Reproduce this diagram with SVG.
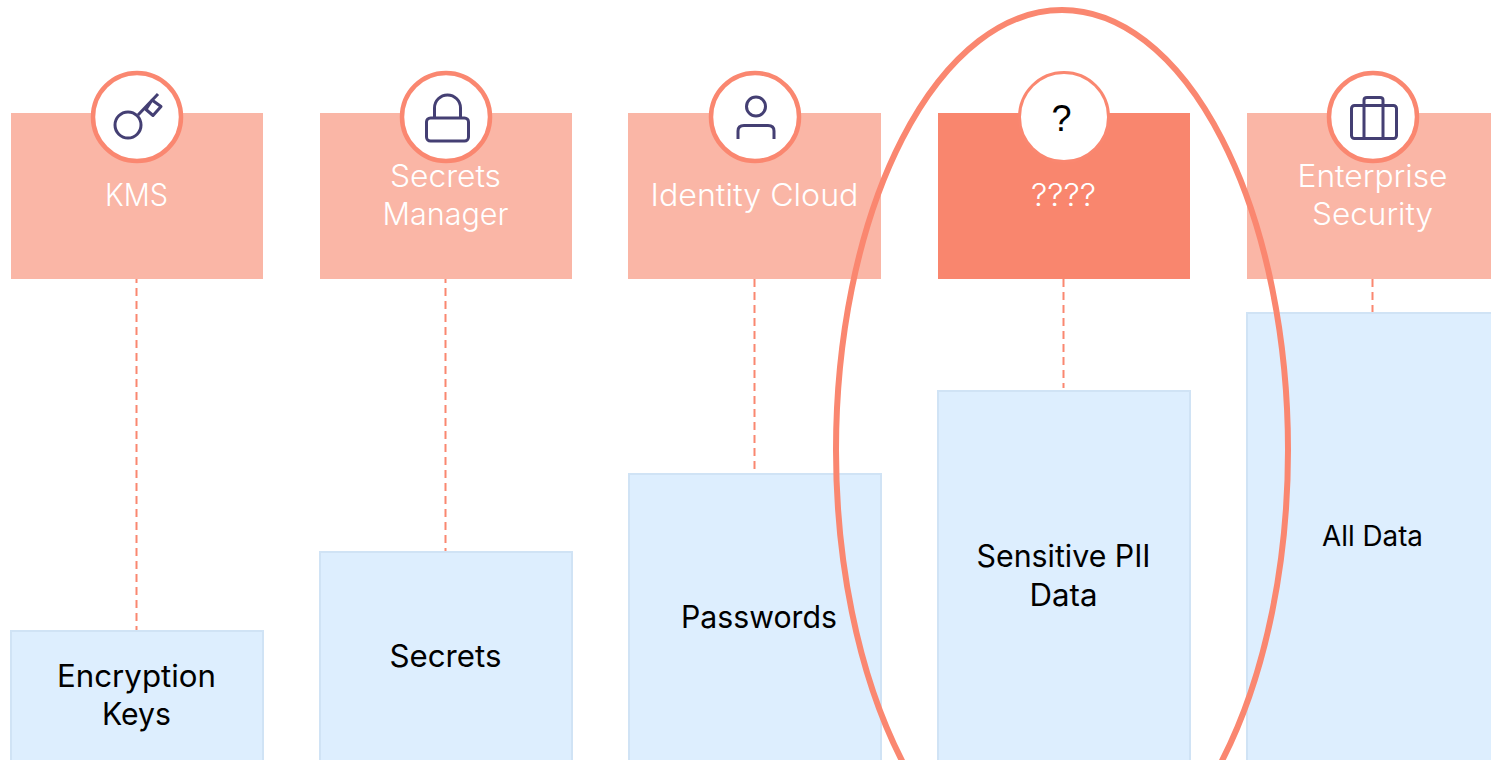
<svg xmlns="http://www.w3.org/2000/svg" width="1491" height="760" viewBox="0 0 1491 760">
<style>
.h{fill:#fab6a6}
.ha{fill:#f9866e}
.b{fill:#ddeefe;stroke:#d0e3f5;stroke-width:2}
.c{fill:#fff;stroke:#fa8770;stroke-width:4.500}
.ca{fill:#fff;stroke:#fa8770;stroke-width:3}
.i{fill:none;stroke:#443f73;stroke-width:3;stroke-linejoin:round}
.w,.k{font-family:"Inter","Liberation Sans",sans-serif;font-size:31px;text-anchor:middle;font-weight:300;font-variant-ligatures:none}
.w{fill:#fff}
.k{fill:#000;font-weight:400}
.s{font-size:28px}
.l{fill:none;stroke:#fa8770;stroke-width:2;stroke-dasharray:8 5}
</style>
<rect width="1491" height="760" fill="#fff"/>
<g id="connectors">
<path class="l" stroke-dashoffset="4" d="M136.500 279V630"/>
<path class="l" stroke-dashoffset="4" d="M445.500 279V551"/>
<path class="l" d="M754.500 279V470"/>
<path class="l" d="M1063.500 279V388"/>
<path class="l" d="M1372.500 279V312"/>
</g>
<g id="node-kms">
<rect class="h" x="11" y="113" width="252" height="166"/>
<circle class="c" cx="137" cy="117" r="44"/>
<circle class="i" cx="128" cy="125" r="13"/>
<path class="i" d="M138 115L158 94M146 109.500L152 100L161 106.500L153 115.500Z"/>
<text class="w" x="136.500" y="206" textLength="63" lengthAdjust="spacingAndGlyphs">KMS</text>
</g>
<g id="node-secrets-manager">
<rect class="h" x="320" y="113" width="252" height="166"/>
<circle class="c" cx="446" cy="117" r="44"/>
<rect class="i" x="426.500" y="118" width="42" height="23" rx="4"/>
<path class="i" d="M434.500 118V108A13 13 0 0 1 460.500 108V118"/>
<text class="w" x="445.500" y="187" textLength="111" lengthAdjust="spacingAndGlyphs">Secrets</text>
<text class="w" x="445.500" y="225" textLength="126" lengthAdjust="spacingAndGlyphs">Manager</text>
</g>
<g id="node-identity-cloud">
<rect class="h" x="628" y="113" width="253" height="166"/>
<circle class="c" cx="755" cy="117" r="44"/>
<circle class="i" cx="756" cy="106.500" r="9.500"/>
<path class="i" d="M738 139V131Q738 125.500 744 125.500H768Q774 125.500 774 131V139"/>
<text class="w" x="754.500" y="206" textLength="208" lengthAdjust="spacingAndGlyphs">Identity Cloud</text>
</g>
<g id="node-unknown">
<rect class="ha" x="938" y="113" width="252" height="166"/>
<circle class="ca" cx="1064" cy="117" r="44.500"/>
<text class="k" x="1061.500" y="131" style="font-family:'Liberation Sans',sans-serif;font-size:36px">?</text>
<text class="w" x="1063.500" y="206" textLength="65" lengthAdjust="spacingAndGlyphs">????</text>
</g>
<g id="node-enterprise-security">
<rect class="h" x="1247" y="113" width="244" height="166"/>
<circle class="c" cx="1373" cy="117" r="44"/>
<rect class="i" x="1351.500" y="105.500" width="45" height="33" rx="3"/>
<path class="i" d="M1364 105.500V138.500M1383 105.500V138.500M1364 105.500V100Q1364 97.500 1367 97.500H1380Q1383 97.500 1383 100V105.500"/>
<text class="w" x="1372.500" y="187" textLength="150" lengthAdjust="spacingAndGlyphs">Enterprise</text>
<text class="w" x="1372.500" y="225" textLength="121" lengthAdjust="spacingAndGlyphs">Security</text>
</g>
<g id="node-encryption-keys">
<rect class="b" x="11" y="631" width="252" height="140"/>
<text class="k" x="136.500" y="687" textLength="159" lengthAdjust="spacingAndGlyphs">Encryption</text>
<text class="k" x="136.500" y="725" textLength="69" lengthAdjust="spacingAndGlyphs">Keys</text>
</g>
<g id="node-secrets">
<rect class="b" x="320" y="552" width="252" height="220"/>
<text class="k" x="445.500" y="667" textLength="112" lengthAdjust="spacingAndGlyphs">Secrets</text>
</g>
<g id="node-passwords">
<rect class="b" x="629" y="474" width="252" height="300"/>
<text class="k" x="759" y="628" textLength="156" lengthAdjust="spacingAndGlyphs">Passwords</text>
</g>
<g id="node-sensitive-pii">
<rect class="b" x="938" y="391" width="252" height="380"/>
<text class="k" x="1063.500" y="567" textLength="174" lengthAdjust="spacingAndGlyphs">Sensitive PII</text>
<text class="k" x="1063.500" y="606" textLength="68" lengthAdjust="spacingAndGlyphs">Data</text>
</g>
<g id="node-all-data">
<rect class="b" x="1247" y="313" width="250" height="460"/>
<text class="k s" x="1372.500" y="546" textLength="101" lengthAdjust="spacingAndGlyphs">All Data</text>
</g>
<ellipse id="highlight" cx="1062" cy="450" rx="226" ry="440" fill="none" stroke="#fa8770" stroke-width="6"/>
</svg>
